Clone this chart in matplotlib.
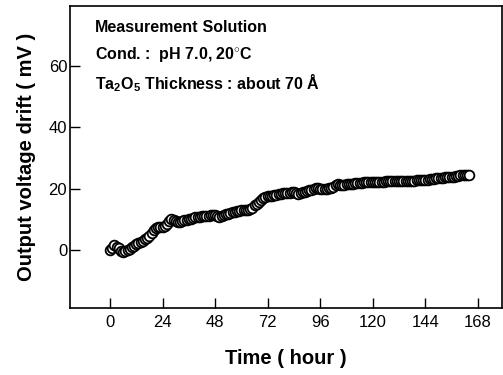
import matplotlib
matplotlib.use("Agg")
import matplotlib.pyplot as plt

plt.rcParams['font.family'] = ['Liberation Sans', 'DejaVu Sans']
plt.rcParams['mathtext.fontset'] = 'custom'
plt.rcParams['mathtext.rm'] = 'Liberation Sans:bold'
plt.rcParams['mathtext.bf'] = 'Liberation Sans:bold'
plt.rcParams['mathtext.it'] = 'Liberation Sans:bold'

time_h = list(range(0, 165))
drift_mv = [0.0, 0.5, 1.5, 1.0, 0.5, -0.2, -0.8, -0.5, 0.0, 0.4,
            0.8, 1.3, 1.8, 2.1, 2.5, 3.0, 3.5, 4.0, 4.5, 5.5,
            6.5, 7.2, 7.5, 7.4, 7.3, 7.8, 8.5, 9.5, 10.2, 9.8,
            9.3, 9.1, 9.0, 9.3, 9.6, 9.8, 10.0, 10.1, 10.3, 10.6,
            10.8, 10.8, 10.9, 11.0, 11.0, 11.2, 11.3, 11.4, 11.4, 11.1,
            10.8, 11.0, 11.3, 11.6, 11.8, 12.0, 12.2, 12.4, 12.6, 12.8,
            13.0, 13.0, 13.0, 13.1, 13.2, 13.8, 14.5, 15.0, 15.5, 16.3,
            17.0, 17.3, 17.5, 17.5, 17.6, 17.8, 17.9, 18.1, 18.3, 18.5,
            18.6, 18.6, 18.7, 18.8, 18.9, 18.6, 18.3, 18.5, 18.8, 19.0,
            19.3, 19.4, 19.5, 19.9, 20.3, 20.1, 20.0, 19.9, 19.8, 20.0,
            20.2, 20.3, 20.5, 21.0, 21.4, 21.3, 21.3, 21.3, 21.4, 21.4,
            21.5, 21.6, 21.7, 21.8, 21.9, 21.9, 22.0, 22.0, 22.0, 22.0,
            22.0, 22.0, 22.1, 22.1, 22.2, 22.2, 22.3, 22.3, 22.3, 22.4,
            22.5, 22.5, 22.6, 22.5, 22.5, 22.5, 22.5, 22.5, 22.6, 22.6,
            22.7, 22.7, 22.8, 22.8, 22.8, 22.9, 23.0, 23.1, 23.2, 23.3,
            23.5, 23.5, 23.5, 23.6, 23.7, 23.7, 23.8, 23.9, 24.0, 24.2,
            24.3, 24.3, 24.4, 24.4, 24.5]

x_ticks = [0, 24, 48, 72, 96, 120, 144, 168]
y_ticks = [0, 20, 40, 60]

fig = plt.figure(figsize=(5.03, 3.75), dpi=100)
ax = fig.add_axes([0.139, 0.179, 0.859, 0.805])

ax.plot(time_h, drift_mv, linestyle='none', marker='o', markersize=7,
        markerfacecolor='white', markeredgecolor='black', markeredgewidth=1.3)

ax.set_xlim(-18.3, 179)
ax.set_ylim(-18.9, 79.5)
ax.set_xticks(x_ticks)
ax.set_yticks(y_ticks)
ax.tick_params(direction='in', length=7, width=1.0, labelsize=12)
ax.tick_params(axis='x', pad=5)
ax.tick_params(axis='y', pad=2)
for s in ax.spines.values():
    s.set_linewidth(1.2)

ax.set_xlabel('Time ( hour )', fontsize=14.5, fontweight='bold', labelpad=14)
ax.set_ylabel('Output voltage drift ( mV )', fontsize=14.5, fontweight='bold', labelpad=9)

fs = 11.5
t1 = ax.text(0.058, 0.93, 'Measurement', transform=ax.transAxes, fontsize=fs,
             fontweight='bold', va='center', ha='left')
ax.annotate(' Solution', xy=(1, 0.5), xycoords=t1, va='center', ha='left',
            fontsize=fs, fontweight='semibold')
ax.text(0.058, 0.838, r'Cond. :  pH 7.0, 20$^{\circ}$C', transform=ax.transAxes,
        fontsize=fs, fontweight='bold', va='center', ha='left')
ax.text(0.058, 0.745, r'Ta$_2$O$_5$ Thickness : about 70 Å', transform=ax.transAxes,
        fontsize=fs, fontweight='bold', va='center', ha='left')

fig.savefig('out.png', dpi=100)
